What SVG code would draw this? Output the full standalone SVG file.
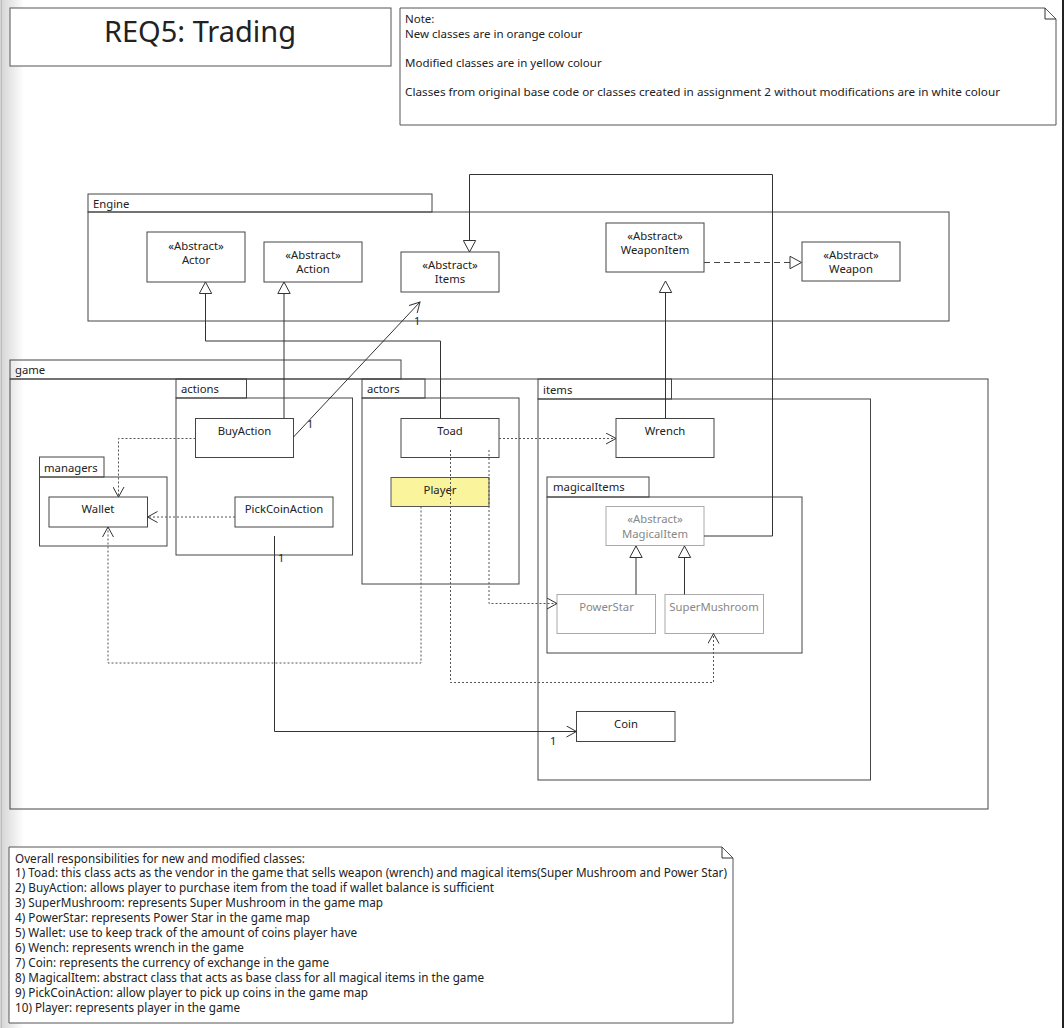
<svg xmlns="http://www.w3.org/2000/svg" width="1064" height="1028" viewBox="0 0 1064 1028">
<defs>
<linearGradient id="edge" x1="0" y1="0" x2="1" y2="0">
<stop offset="0" stop-color="#d4d4d4"/>
<stop offset="1" stop-color="#ffffff"/>
</linearGradient>
<marker id="open" viewBox="0 0 12 12" refX="11" refY="6" markerWidth="12" markerHeight="12" orient="auto" markerUnits="userSpaceOnUse">
<path d="M1,0.5 L11,6 L1,11.5" fill="none" stroke="#333" stroke-width="1"/>
</marker>
<marker id="tri" viewBox="0 0 14 14" refX="13" refY="7" markerWidth="14" markerHeight="14" orient="auto" markerUnits="userSpaceOnUse">
<path d="M1.5,0.8 L13,7 L1.5,13.2 Z" fill="#fff" stroke="#333" stroke-width="1"/>
</marker>
</defs>
<style>
text{font-family:"Noto Sans","DejaVu Sans",sans-serif;fill:#222;}
.cls{font-size:11.3px;text-anchor:middle;}
.pk{font-size:11.3px;}
.box{fill:#fff;stroke:#444;stroke-width:1;}
.grey{fill:#fff;stroke:#aaa;stroke-width:1;}
.gt{fill:#888;}
.pkg{fill:none;stroke:#444;stroke-width:1;}
.ln{fill:none;stroke:#333;stroke-width:1;}
.dot{fill:none;stroke:#555;stroke-width:1;stroke-dasharray:2,2;}
.dash{fill:none;stroke:#444;stroke-width:1;stroke-dasharray:6,4;}
.note{fill:#fff;stroke:#555;stroke-width:1;}
.nt{font-size:11.5px;}
.bt{font-size:12px;}
.m{font-size:11px;}
</style>
<rect x="0" y="0" width="1064" height="1028" fill="#fff"/>
<rect x="0" y="0" width="24" height="1028" fill="url(#edge)"/>
<line x1="1.5" y1="0" x2="1.5" y2="1028" stroke="#bbb"/>
<rect x="1062" y="0" width="2" height="1028" fill="#222"/>

<g id="title">
<rect x="10" y="8" width="381" height="58" fill="#fff" stroke="#555"/>
<text x="200" y="42" style="font-size:29px;text-anchor:middle;">REQ5: Trading</text>
</g>

<g id="legend-note">
<path class="note" d="M400,8 H1045 L1056,19 V125 H400 Z"/>
<path class="ln" d="M1045,8 V19 H1056" stroke="#555"/>
<text class="nt" x="405" y="23">Note:</text>
<text class="nt" x="405" y="38">New classes are in orange colour</text>
<text class="nt" x="405" y="67">Modified classes are in yellow colour</text>
<text class="nt" x="405" y="96" textLength="595" lengthAdjust="spacingAndGlyphs">Classes from original base code or classes created in assignment 2 without modifications are in white colour</text>
</g>

<g id="packages">
<g id="pkg-engine">
<rect class="pkg" x="88" y="194" width="344" height="18"/>
<rect class="pkg" x="88" y="212" width="861" height="109"/>
<text class="pk" x="93" y="208">Engine</text>
</g>
<g id="pkg-game">
<rect class="pkg" x="10" y="360" width="391" height="19"/>
<rect class="pkg" x="10" y="379" width="978" height="430"/>
<text class="pk" x="15" y="374">game</text>
</g>
<g id="pkg-actions">
<rect class="pkg" x="176" y="379" width="70.5" height="19"/>
<rect class="pkg" x="176" y="398" width="176.5" height="157"/>
<text class="pk" x="181" y="393">actions</text>
</g>
<g id="pkg-actors">
<rect class="pkg" x="362" y="379" width="63" height="19"/>
<rect class="pkg" x="362" y="398" width="157" height="186"/>
<text class="pk" x="367" y="393">actors</text>
</g>
<g id="pkg-items">
<rect class="pkg" x="538" y="379" width="133.5" height="20"/>
<rect class="pkg" x="538" y="399" width="332.5" height="381"/>
<text class="pk" x="543" y="394">items</text>
</g>
<g id="pkg-managers">
<rect class="pkg" x="39.5" y="457" width="64.5" height="20"/>
<rect class="pkg" x="39.5" y="477" width="127.5" height="69"/>
<text class="pk" x="44" y="472">managers</text>
</g>
<g id="pkg-magicalItems">
<rect class="pkg" x="547" y="477" width="102" height="20"/>
<rect class="pkg" x="547" y="497" width="255" height="156"/>
<text class="pk" x="553" y="491">magicalItems</text>
</g>
</g>

<g id="node-actor">
<rect class="box" x="147" y="232" width="98" height="50"/>
<text class="cls" x="196" y="250">«Abstract»</text>
<text class="cls" x="196" y="264">Actor</text>
</g>
<g id="node-action">
<rect class="box" x="264" y="242" width="98" height="40"/>
<text class="cls" x="313" y="259">«Abstract»</text>
<text class="cls" x="313" y="273">Action</text>
</g>
<g id="node-items">
<rect class="box" x="401" y="252" width="98" height="40"/>
<text class="cls" x="450" y="269">«Abstract»</text>
<text class="cls" x="450" y="283">Items</text>
</g>
<g id="node-weaponitem">
<rect class="box" x="606" y="223" width="98" height="49"/>
<text class="cls" x="655" y="240">«Abstract»</text>
<text class="cls" x="655" y="254">WeaponItem</text>
</g>
<g id="node-weapon">
<rect class="box" x="802" y="242" width="98" height="39"/>
<text class="cls" x="851" y="259">«Abstract»</text>
<text class="cls" x="851" y="273">Weapon</text>
</g>
<g id="node-buyaction">
<rect class="box" x="195.5" y="418.5" width="98" height="39"/>
<text class="cls" x="244.5" y="435">BuyAction</text>
</g>
<g id="node-pickcoinaction">
<rect class="box" x="235" y="497" width="98" height="30"/>
<text class="cls" x="284" y="513">PickCoinAction</text>
</g>
<g id="node-wallet">
<rect class="box" x="49" y="497" width="98.5" height="30"/>
<text class="cls" x="98" y="513">Wallet</text>
</g>
<g id="node-toad">
<rect class="box" x="401" y="418.5" width="98" height="39"/>
<text class="cls" x="450" y="435">Toad</text>
</g>
<g id="node-player">
<rect x="391" y="477.5" width="98" height="29" fill="#faf49c" stroke="#555"/>
<text class="cls" x="440" y="493.5">Player</text>
</g>
<g id="node-wrench">
<rect class="box" x="616" y="418.5" width="98" height="39"/>
<text class="cls" x="665" y="435">Wrench</text>
</g>
<g id="node-magicalitem">
<rect class="grey" x="606" y="506.5" width="98" height="39"/>
<text class="cls gt" x="655" y="523">«Abstract»</text>
<text class="cls gt" x="655" y="537.5">MagicalItem</text>
</g>
<g id="node-powerstar">
<rect class="grey" x="557" y="594.5" width="98.5" height="39"/>
<text class="cls gt" x="606.5" y="611">PowerStar</text>
</g>
<g id="node-supermushroom">
<rect class="grey" x="665" y="594.5" width="98.5" height="39"/>
<text class="cls gt" x="714" y="611">SuperMushroom</text>
</g>
<g id="node-coin">
<rect class="box" x="576.5" y="711.5" width="98.5" height="30"/>
<text class="cls" x="626" y="728">Coin</text>
</g>

<g id="connectors">
<path class="ln" d="M440.5,418.5 V341 H205.5 V282" marker-end="url(#tri)"/>
<path class="ln" d="M284,418.5 V282" marker-end="url(#tri)"/>
<path class="ln" d="M665.5,418.5 V281" marker-end="url(#tri)"/>
<path class="ln" d="M704,536 H772.5 V174.5 H469.5 V252" marker-end="url(#tri)"/>
<path class="ln" d="M636,594.5 V546" marker-end="url(#tri)"/>
<path class="ln" d="M684.5,594.5 V546" marker-end="url(#tri)"/>
<path class="dash" d="M704,262.5 H801.5" marker-end="url(#tri)"/>
<path class="ln" d="M293.5,437 L420,302" marker-end="url(#open)"/>
<path class="ln" d="M274.5,536 V731.5 H576.5" marker-end="url(#open)"/>
<path class="dot" d="M195.5,438.5 H118.5 V497" marker-end="url(#open)"/>
<path class="dot" d="M235,517 H147.5" marker-end="url(#open)"/>
<path class="dot" d="M421,506.5 V663 H108 V527" marker-end="url(#open)"/>
<path class="dot" d="M499,438.5 H616" marker-end="url(#open)"/>
<path class="dot" d="M489,450 V603.5 H557" marker-end="url(#open)"/>
<path class="dot" d="M450.5,450 V682.5 H713.5 V633.5" marker-end="url(#open)"/>
<text class="m" x="307" y="428">1</text>
<text class="m" x="414" y="325">1</text>
<text class="m" x="278" y="562">1</text>
<text class="m" x="550" y="745">1</text>
</g>

<g id="responsibilities-note">
<path class="note" d="M9,847 H722 L733,858 V1023 H9 Z"/>
<path class="ln" d="M722,847 V858 H733" stroke="#555"/>
<text class="bt" x="15" y="862.5" textLength="290" lengthAdjust="spacingAndGlyphs">Overall responsibilities for new and modified classes:</text>
<text class="bt" x="15" y="877.4" textLength="712" lengthAdjust="spacingAndGlyphs">1) Toad: this class acts as the vendor in the game that sells weapon (wrench) and magical items(Super Mushroom and Power Star)</text>
<text class="bt" x="15" y="892.3" textLength="479" lengthAdjust="spacingAndGlyphs">2) BuyAction: allows player to purchase item from the toad if wallet balance is sufficient</text>
<text class="bt" x="15" y="907.2" textLength="368" lengthAdjust="spacingAndGlyphs">3) SuperMushroom: represents Super Mushroom in the game map</text>
<text class="bt" x="15" y="922.1" textLength="295" lengthAdjust="spacingAndGlyphs">4) PowerStar: represents Power Star in the game map</text>
<text class="bt" x="15" y="937" textLength="342" lengthAdjust="spacingAndGlyphs">5) Wallet: use to keep track of the amount of coins player have</text>
<text class="bt" x="15" y="951.9" textLength="229" lengthAdjust="spacingAndGlyphs">6) Wench: represents wrench in the game</text>
<text class="bt" x="15" y="966.8" textLength="314" lengthAdjust="spacingAndGlyphs">7) Coin: represents the currency of exchange in the game</text>
<text class="bt" x="15" y="981.7" textLength="469" lengthAdjust="spacingAndGlyphs">8) MagicalItem: abstract class that acts as base class for all magical items in the game</text>
<text class="bt" x="15" y="996.6" textLength="353" lengthAdjust="spacingAndGlyphs">9) PickCoinAction: allow player to pick up coins in the game map</text>
<text class="bt" x="15" y="1011.5" textLength="225" lengthAdjust="spacingAndGlyphs">10) Player: represents player in the game</text>
</g>
</svg>
